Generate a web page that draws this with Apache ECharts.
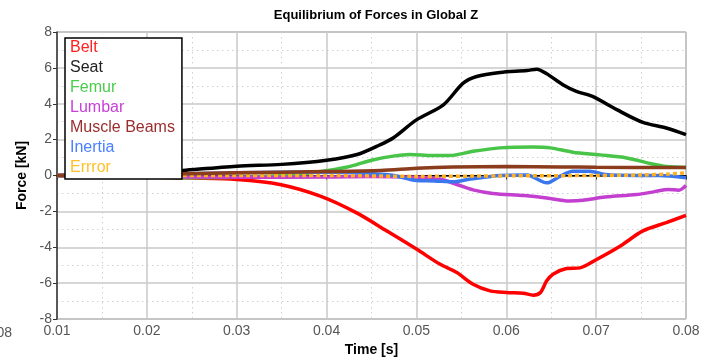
<!DOCTYPE html>
<html><head><meta charset="utf-8">
<script src="https://cdn.jsdelivr.net/npm/echarts@6/dist/echarts.min.js"></script>
<style>html,body{margin:0;padding:0;background:#fff}#c{width:709px;height:362px}</style>
</head><body><div id="c"></div>
<script>
const title = 'Equilibrium of Forces in Global Z';
const xTicks = [0.01, 0.02, 0.03, 0.04, 0.05, 0.06, 0.07, 0.08];
const yTicks = [-8, -6, -4, -2, 0, 2, 4, 6, 8];
const seriesNames = ['Belt', 'Seat', 'Femur', 'Lumbar', 'Muscle Beams', 'Inertia', 'Errror'];

const beltT = [0.010,0.020,0.025,0.030,0.0348,0.0393,0.0433,0.0467,0.050,0.0526,0.0545,0.0563,0.0582,0.0600,0.0619,0.0630,0.0638,0.0645,0.0652,0.0667,0.0682,0.0701,0.0727,0.0752,0.0778,0.080];
const beltV = [0,-0.08,-0.14,-0.22,-0.5,-1.15,-2.07,-3.09,-4.1,-4.94,-5.41,-6.06,-6.43,-6.52,-6.56,-6.67,-6.52,-5.87,-5.5,-5.19,-5.15,-4.67,-3.93,-3.09,-2.63,-2.22];

const seatT = [0.010,0.014,0.018,0.022,0.024,0.030,0.035,0.040,0.0434,0.0459,0.0474,0.050,0.053,0.0552,0.0567,0.0593,0.0623,0.0634,0.0645,0.0663,0.0678,0.0696,0.0723,0.0752,0.0778,0.080];
const seatV = [0,0.03,0.1,0.2,0.28,0.52,0.62,0.85,1.17,1.7,2.09,3.1,3.94,5.15,5.52,5.74,5.85,5.93,5.67,5.06,4.69,4.41,3.67,2.96,2.65,2.28];

const femurT = [0.010,0.020,0.025,0.030,0.035,0.0396,0.0422,0.0433,0.045,0.0474,0.0493,0.0518,0.0537,0.0563,0.0593,0.063,0.0649,0.0674,0.0704,0.0734,0.076,0.0778,0.080];
const femurV = [0,-0.08,-0.12,-0.1,0,0.24,0.46,0.6,0.85,1.08,1.17,1.11,1.11,1.35,1.54,1.59,1.54,1.3,1.15,0.98,0.67,0.5,0.45];

const lumbarT = [0.010,0.020,0.030,0.040,0.045,0.050,0.0526,0.0545,0.0563,0.0585,0.062,0.0645,0.067,0.0685,0.071,0.0745,0.0765,0.078,0.0792,0.080];
const lumbarV = [0,-0.05,-0.1,-0.08,-0.05,-0.1,-0.2,-0.5,-0.8,-1.0,-1.12,-1.25,-1.42,-1.38,-1.2,-1.06,-0.9,-0.78,-0.82,-0.56];

const muscleT = [0.010,0.015,0.024,0.030,0.040,0.046,0.050,0.054,0.060,0.066,0.070,0.080];
const muscleV = [0,0.02,0.1,0.15,0.22,0.28,0.4,0.47,0.5,0.48,0.46,0.44];

const inertiaT = [0.010,0.020,0.030,0.040,0.045,0.0475,0.050,0.052,0.054,0.056,0.0593,0.0623,0.0645,0.066,0.0674,0.0693,0.071,0.0745,0.077,0.080];
const inertiaV = [0,0.05,0.15,0.2,0.1,0,-0.28,-0.3,-0.35,-0.2,0,0.03,-0.41,-0.04,0.24,0.24,0.05,0,0,-0.13];

const errorT = [0.010,0.040,0.050,0.060,0.070,0.075,0.078,0.080];
const errorV = [0,0,-0.05,-0.02,0,0.03,0.08,0.15];

const lineColors = ['#ff0000', '#000000', '#48c448', '#c33fd0', '#8b3c1c', '#3a76ee', '#ffb020'];
const legendColors = ['#ff2020', '#222222', '#4ccc4c', '#c840d8', '#9a2d2d', '#4a80ff', '#ffc028'];

const zip = (t, v) => t.map((x, i) => [x, v[i]]);
const dataSets = [zip(beltT, beltV), zip(seatT, seatV), zip(femurT, femurV), zip(lumbarT, lumbarV), zip(muscleT, muscleV), zip(inertiaT, inertiaV), zip(errorT, errorV)];

const series = seriesNames.map((n, i) => {
  const s = {
    name: n, type: 'line', data: dataSets[i], showSymbol: false, smooth: 0.3,
    lineStyle: { color: lineColors[i], width: 3.5 }, itemStyle: { color: lineColors[i] }, z: 2 + i
  };
  if (n === 'Muscle Beams') s.z = 20;
  if (n === 'Errror') {
    s.lineStyle = { color: lineColors[i], width: 3.5, type: [4, 3] };
    s.markLine = { silent: true, symbol: 'none', label: { show: false }, lineStyle: { color: '#000', width: 1, type: 'solid' }, data: [{ yAxis: 0 }], z: 1 };
  }
  return s;
});

const chart = echarts.init(document.getElementById('c'));
chart.setOption({
  animation: false,
  backgroundColor: '#fff',
  title: { text: title, left: 371, top: 4, textAlign: 'center', textStyle: { fontFamily: 'Liberation Sans, Arial', fontSize: 13, fontWeight: 'bold', color: '#000' } },
  grid: { left: 57, right: 23, top: 32, bottom: 42, show: true, borderColor: '#777', borderWidth: 1 },
  legend: {
    orient: 'vertical', left: 65, top: 38, padding: [2, 7, 3, 0], itemGap: 4, z: 30,
    itemWidth: 0, itemHeight: 16, icon: 'rect',
    itemStyle: { opacity: 0 }, lineStyle: { opacity: 0 },
    backgroundColor: '#fff', borderColor: '#000', borderWidth: 1.5,
    textStyle: { fontFamily: 'Liberation Sans, Arial', fontSize: 16 },
    data: seriesNames.map((n, i) => ({ name: n, textStyle: { color: legendColors[i] } }))
  },
  xAxis: {
    type: 'value', min: xTicks[0], max: xTicks[xTicks.length - 1], interval: 0.01,
    name: 'Time [s]', nameLocation: 'middle', nameGap: 24,
    nameTextStyle: { fontFamily: 'Liberation Sans, Arial', fontSize: 14, fontWeight: 'bold', color: '#000' },
    axisLine: { show: true, lineStyle: { color: '#333', width: 1.5 } },
    axisTick: { show: true, length: 4, lineStyle: { color: '#333' } },
    axisLabel: { fontFamily: 'Liberation Sans, Arial', fontSize: 14, color: '#555', margin: 5, formatter: v => v.toFixed(2) },
    splitLine: { show: true, lineStyle: { color: '#c8c8c8', width: 1.5 } },
    minorTick: { show: false, splitNumber: 2 },
    minorSplitLine: { show: true, lineStyle: { color: '#d0d0d0', width: 1, type: [1.5, 3.5] } }
  },
  yAxis: {
    type: 'value', min: yTicks[0], max: yTicks[yTicks.length - 1], interval: 2,
    name: 'Force [kN]', nameLocation: 'middle', nameGap: 23,
    nameTextStyle: { fontFamily: 'Liberation Sans, Arial', fontSize: 14, fontWeight: 'bold', color: '#000' },
    axisLine: { show: true, lineStyle: { color: '#333', width: 1.5 } },
    axisTick: { show: true, length: 4, lineStyle: { color: '#333' } },
    axisLabel: { fontFamily: 'Liberation Sans, Arial', fontSize: 14, color: '#555', margin: 5 },
    splitLine: { show: true, lineStyle: { color: '#c8c8c8', width: 1.5 } },
    minorTick: { show: false, splitNumber: 2 },
    minorSplitLine: { show: true, lineStyle: { color: '#d0d0d0', width: 1, type: [1.5, 3.5] } }
  },
  graphic: [{ type: 'text', x: 12, y: 333, style: { text: '0.08', align: 'right', verticalAlign: 'middle', fontFamily: 'Liberation Sans, Arial', fontSize: 14, fill: '#555' } }],
  series: series
});
</script></body></html>
